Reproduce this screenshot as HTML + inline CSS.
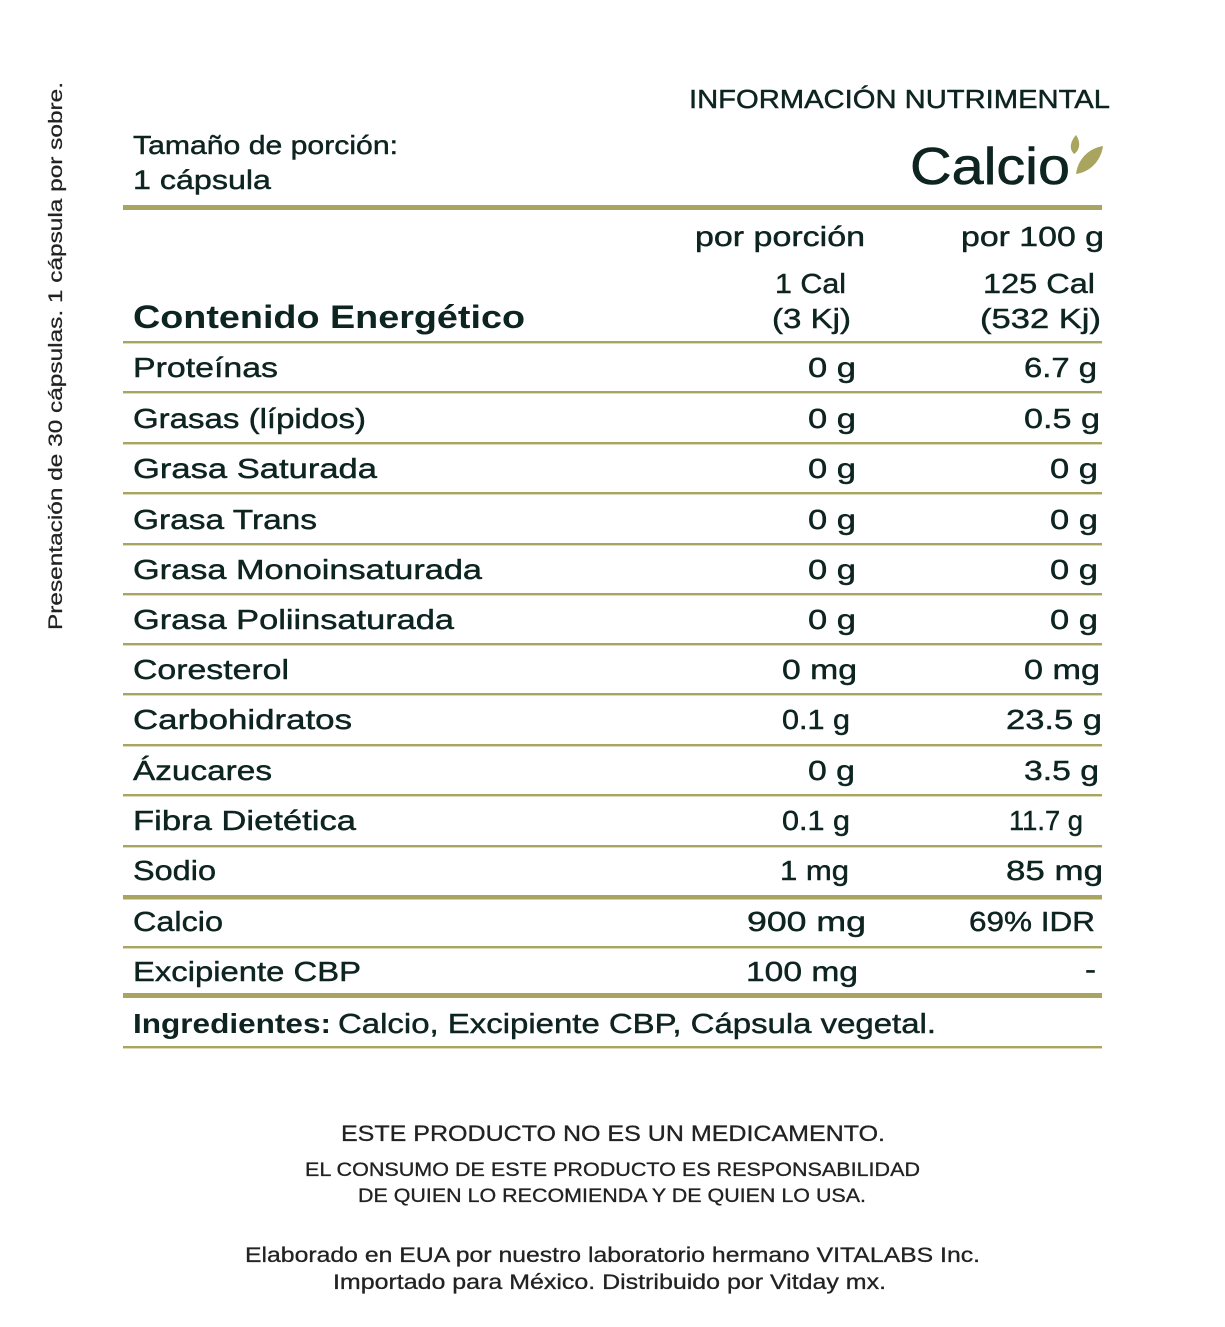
<!DOCTYPE html>
<html>
<head>
<meta charset="utf-8">
<style>
html,body{margin:0;padding:0;background:#fff;}
svg{display:block;}
text{font-family:"Liberation Sans",Arial,sans-serif;fill:#0d2420;}
.r{font-size:28px;stroke:#0d2420;stroke-width:0.45px;}
.f{fill:#222;font-size:21px;stroke:#222;stroke-width:0.3px;}
</style>
</head>
<body>
<svg width="1225" height="1327" viewBox="0 0 1225 1327" xmlns="http://www.w3.org/2000/svg">
<rect width="1225" height="1327" fill="#fff"/>

<!-- vertical text -->
<text transform="translate(62,630) rotate(-90)" font-size="19" textLength="548" lengthAdjust="spacingAndGlyphs" style="fill:#222;stroke:#222;stroke-width:0.25px">Presentación de 30 cápsulas. 1 cápsula por sobre.</text>

<!-- header -->
<text class="r" x="689" y="108" font-size="26" style="font-size:26px" textLength="421" lengthAdjust="spacingAndGlyphs">INFORMACIÓN NUTRIMENTAL</text>
<text class="r" x="133" y="154" style="font-size:26px" textLength="265" lengthAdjust="spacingAndGlyphs">Tamaño de porción:</text>
<text class="r" x="133" y="189" style="font-size:27px" textLength="138" lengthAdjust="spacingAndGlyphs">1 cápsula</text>

<text x="910" y="184" style="font-size:52px;stroke:#0d2420;stroke-width:0.6px" textLength="160" lengthAdjust="spacingAndGlyphs">Calcio</text>
<path d="M1076,135 C1070,142 1069,149 1074,154 C1080,150 1081,142 1076,135 Z" fill="#a9a55e"/>
<path d="M1076,174 C1078,158 1090,148 1103,146 C1101,161 1090,172 1076,174 Z" fill="#a9a55e"/>

<!-- lines -->
<g fill="#a9a55e">
<rect x="123" y="205" width="979" height="5"/>
<rect x="123" y="341" width="979" height="2.4"/>
<rect x="123" y="391" width="979" height="2.4"/>
<rect x="123" y="442" width="979" height="2.4"/>
<rect x="123" y="492" width="979" height="2.4"/>
<rect x="123" y="543" width="979" height="2.4"/>
<rect x="123" y="593" width="979" height="2.4"/>
<rect x="123" y="643" width="979" height="2.4"/>
<rect x="123" y="693" width="979" height="2.4"/>
<rect x="123" y="744" width="979" height="2.4"/>
<rect x="123" y="794" width="979" height="2.4"/>
<rect x="123" y="845" width="979" height="2.4"/>
<rect x="123" y="895" width="979" height="4.5"/>
<rect x="123" y="946" width="979" height="2.4"/>
<rect x="123" y="993" width="979" height="5"/>
<rect x="123" y="1046" width="979" height="2.4"/>
</g>

<!-- column headers -->
<text class="r" x="695" y="246" textLength="170" lengthAdjust="spacingAndGlyphs">por porción</text>
<text class="r" x="961" y="246" textLength="143" lengthAdjust="spacingAndGlyphs">por 100 g</text>
<text class="r" x="775" y="293" textLength="71" lengthAdjust="spacingAndGlyphs">1 Cal</text>
<text class="r" x="983" y="293" textLength="112" lengthAdjust="spacingAndGlyphs">125 Cal</text>
<text class="r" x="772" y="328" textLength="79" lengthAdjust="spacingAndGlyphs">(3 Kj)</text>
<text class="r" x="980" y="328" textLength="121" lengthAdjust="spacingAndGlyphs">(532 Kj)</text>
<text x="133" y="328" font-weight="bold" style="font-size:32px" textLength="392" lengthAdjust="spacingAndGlyphs">Contenido Energético</text>

<!-- rows: labels -->
<text class="r" x="133" y="377" textLength="145" lengthAdjust="spacingAndGlyphs">Proteínas</text>
<text class="r" x="133" y="428" textLength="233" lengthAdjust="spacingAndGlyphs">Grasas (lípidos)</text>
<text class="r" x="133" y="478" textLength="244" lengthAdjust="spacingAndGlyphs">Grasa Saturada</text>
<text class="r" x="133" y="529" textLength="184" lengthAdjust="spacingAndGlyphs">Grasa Trans</text>
<text class="r" x="133" y="579" textLength="349" lengthAdjust="spacingAndGlyphs">Grasa Monoinsaturada</text>
<text class="r" x="133" y="629" textLength="321" lengthAdjust="spacingAndGlyphs">Grasa Poliinsaturada</text>
<text class="r" x="133" y="679" textLength="156" lengthAdjust="spacingAndGlyphs">Coresterol</text>
<text class="r" x="133" y="729" textLength="219" lengthAdjust="spacingAndGlyphs">Carbohidratos</text>
<text class="r" x="133" y="780" textLength="139" lengthAdjust="spacingAndGlyphs">Ázucares</text>
<text class="r" x="133" y="830" textLength="223" lengthAdjust="spacingAndGlyphs">Fibra Dietética</text>
<text class="r" x="133" y="880" textLength="83" lengthAdjust="spacingAndGlyphs">Sodio</text>
<text class="r" x="133" y="931" textLength="90" lengthAdjust="spacingAndGlyphs">Calcio</text>
<text class="r" x="133" y="981" textLength="228" lengthAdjust="spacingAndGlyphs">Excipiente CBP</text>

<!-- col1 values -->
<text class="r" x="808" y="377" textLength="48" lengthAdjust="spacingAndGlyphs">0 g</text>
<text class="r" x="808" y="428" textLength="48" lengthAdjust="spacingAndGlyphs">0 g</text>
<text class="r" x="808" y="478" textLength="48" lengthAdjust="spacingAndGlyphs">0 g</text>
<text class="r" x="808" y="529" textLength="48" lengthAdjust="spacingAndGlyphs">0 g</text>
<text class="r" x="808" y="579" textLength="48" lengthAdjust="spacingAndGlyphs">0 g</text>
<text class="r" x="808" y="629" textLength="48" lengthAdjust="spacingAndGlyphs">0 g</text>
<text class="r" x="782" y="679" textLength="75" lengthAdjust="spacingAndGlyphs">0 mg</text>
<text class="r" x="782" y="729" textLength="68" lengthAdjust="spacingAndGlyphs">0.1 g</text>
<text class="r" x="808" y="780" textLength="47" lengthAdjust="spacingAndGlyphs">0 g</text>
<text class="r" x="782" y="830" textLength="68" lengthAdjust="spacingAndGlyphs">0.1 g</text>
<text class="r" x="780" y="880" textLength="69" lengthAdjust="spacingAndGlyphs">1 mg</text>
<text class="r" x="747" y="931" textLength="119" lengthAdjust="spacingAndGlyphs">900 mg</text>
<text class="r" x="746" y="981" textLength="112" lengthAdjust="spacingAndGlyphs">100 mg</text>

<!-- col2 values -->
<text class="r" x="1024" y="377" textLength="73" lengthAdjust="spacingAndGlyphs">6.7 g</text>
<text class="r" x="1024" y="428" textLength="76" lengthAdjust="spacingAndGlyphs">0.5 g</text>
<text class="r" x="1050" y="478" textLength="48" lengthAdjust="spacingAndGlyphs">0 g</text>
<text class="r" x="1050" y="529" textLength="48" lengthAdjust="spacingAndGlyphs">0 g</text>
<text class="r" x="1050" y="579" textLength="48" lengthAdjust="spacingAndGlyphs">0 g</text>
<text class="r" x="1050" y="629" textLength="48" lengthAdjust="spacingAndGlyphs">0 g</text>
<text class="r" x="1024" y="679" textLength="76" lengthAdjust="spacingAndGlyphs">0 mg</text>
<text class="r" x="1006" y="729" textLength="96" lengthAdjust="spacingAndGlyphs">23.5 g</text>
<text class="r" x="1024" y="780" textLength="75" lengthAdjust="spacingAndGlyphs">3.5 g</text>
<text class="r" x="1009" y="830" textLength="74" lengthAdjust="spacingAndGlyphs">11.7 g</text>
<text class="r" x="1006" y="880" textLength="97" lengthAdjust="spacingAndGlyphs">85 mg</text>
<text class="r" x="969" y="931" textLength="126" lengthAdjust="spacingAndGlyphs">69% IDR</text>
<text class="r" x="1085" y="979" textLength="11" lengthAdjust="spacingAndGlyphs">-</text>

<!-- ingredients -->
<text x="133" y="1033" font-weight="bold" style="font-size:28px" textLength="198" lengthAdjust="spacingAndGlyphs">Ingredientes:</text>
<text class="r" x="338" y="1033" textLength="598" lengthAdjust="spacingAndGlyphs">Calcio, Excipiente CBP, Cápsula vegetal.</text>

<!-- footer -->
<text class="f" x="341" y="1141" style="font-size:22px" textLength="544" lengthAdjust="spacingAndGlyphs">ESTE PRODUCTO NO ES UN MEDICAMENTO.</text>
<text class="f" x="305" y="1176" style="font-size:19px" textLength="615" lengthAdjust="spacingAndGlyphs">EL CONSUMO DE ESTE PRODUCTO ES RESPONSABILIDAD</text>
<text class="f" x="358" y="1202" style="font-size:19px" textLength="508" lengthAdjust="spacingAndGlyphs">DE QUIEN LO RECOMIENDA Y DE QUIEN LO USA.</text>
<text class="f" x="245" y="1262" style="font-size:21px" textLength="735" lengthAdjust="spacingAndGlyphs">Elaborado en EUA por nuestro laboratorio hermano VITALABS Inc.</text>
<text class="f" x="333" y="1289" style="font-size:21px" textLength="553" lengthAdjust="spacingAndGlyphs">Importado para México. Distribuido por Vitday mx.</text>
</svg>
</body>
</html>
